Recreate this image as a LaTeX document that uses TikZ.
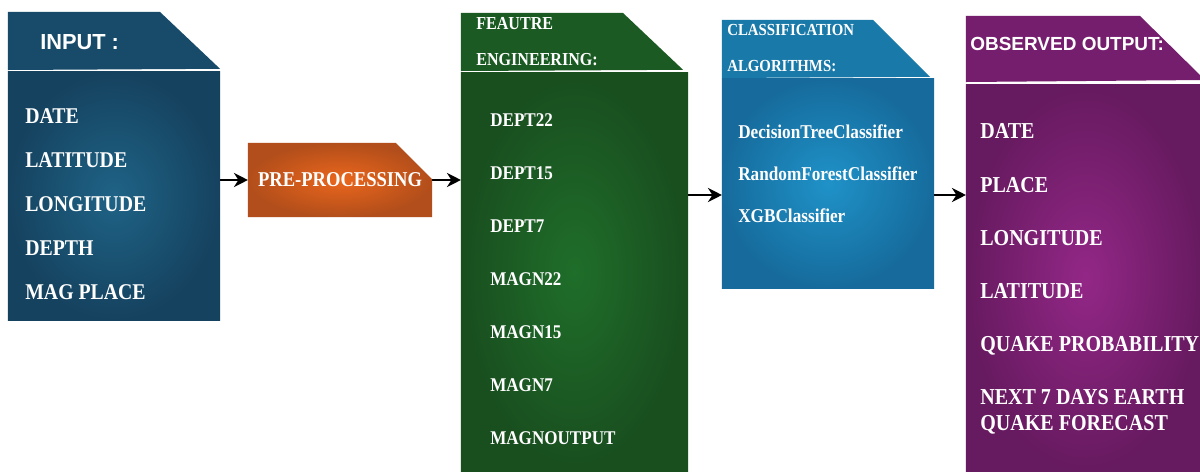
\documentclass[tikz,border=0pt]{standalone}
\usepackage{fontspec}
\usepackage{tikz}
\usetikzlibrary{arrows.meta,shapes.misc}

\newfontfamily\itemfont{Liberation Serif}[FakeStretch=0.88]
\newfontfamily\headfont{Liberation Sans}

\definecolor{inDark}{HTML}{15425F}
\definecolor{inLight}{HTML}{1F6386}
\definecolor{inHead}{HTML}{174B69}
\definecolor{ppDark}{HTML}{B24E1B}
\definecolor{ppLight}{HTML}{EA661C}
\definecolor{feDark}{HTML}{194E1F}
\definecolor{feLight}{HTML}{1F6E2A}
\definecolor{feHead}{HTML}{1B5A22}
\definecolor{clDark}{HTML}{166B9C}
\definecolor{clLight}{HTML}{1F92C8}
\definecolor{clHead}{HTML}{1979A9}
\definecolor{obDark}{HTML}{661A5F}
\definecolor{obLight}{HTML}{932787}
\definecolor{obHead}{HTML}{761E6E}

\begin{document}
\begin{tikzpicture}[x=0.025cm,y=-0.025cm,
    body/.style={rectangle,inner sep=0,outer sep=0},
    tab/.style={rectangle,inner sep=0,outer sep=0},
    items/.style={anchor=base west,align=left,inner sep=0,text=white},
    heading/.style={anchor=west,align=left,inner sep=0,text=white},
    flow/.style={-{Stealth[length=10pt,width=10pt]},line width=2pt}]
    \useasboundingbox[fill=white] (0,0) rectangle (1200,472);

    \node[tab,minimum width=5.3cm,minimum height=1.45cm] (inTab) at (114,41) {};
    \fill[inHead] (inTab.south west) -- (inTab.north west) -- ([xshift=-1.5cm]inTab.north east)
        -- ([yshift=0.03cm]inTab.south east) -- cycle;
    \node[body,inner color=inLight,outer color=inDark,
        minimum width=5.3cm,minimum height=6.2cm] (input) at (114,196) {};
    \node[heading,font={\headfont\bfseries\fontsize{15.5}{18}\selectfont}] (inTitle) at (40,42) {INPUT :};
    \node[items,font={\itemfont\bfseries\fontsize{16}{31.4}\selectfont}] (inList) at (25,299.7)
        {DATE\\LATITUDE\\LONGITUDE\\DEPTH\\MAG PLACE};

    \node[chamfered rectangle,chamfered rectangle corners=north east,inner sep=0,outer sep=0,
        inner color=ppLight,outer color=ppDark,minimum width=4.6cm,minimum height=1.85cm,
        chamfered rectangle xsep=0.8cm,chamfered rectangle ysep=0.725cm,text=white,
        font={\itemfont\bfseries\fontsize{15}{18}\selectfont}] (pre) at (340,180) {PRE-PROCESSING};

    \node[tab,minimum width=5.55cm,minimum height=1.45cm] (feTab) at (572,42) {};
    \fill[feHead] (feTab.south west) -- (feTab.north west) -- ([xshift=-1.5cm]feTab.north east)
        -- ([yshift=0.03cm]feTab.south east) -- cycle;
    \node[body,inner color=feLight,outer color=feDark,
        minimum width=5.675cm,minimum height=9.975cm] (feat) at (574.5,272.5) {};
    \node[heading,font={\itemfont\bfseries\fontsize{13}{26}\selectfont}] (feTitle) at (476,41.5)
        {FEAUTRE\\ENGINEERING:};
    \node[items,font={\itemfont\bfseries\fontsize{13.8}{37.6}\selectfont}] (feList) at (490,444)
        {DEPT22\\DEPT15\\DEPT7\\MAGN22\\MAGN15\\MAGN7\\MAGNOUTPUT};

    \node[tab,minimum width=5.2cm,minimum height=1.45cm] (clTab) at (826,49) {};
    \fill[clHead] (clTab.south west) -- (clTab.north west) -- ([xshift=-1.425cm]clTab.north east)
        -- ([yshift=0.03cm]clTab.south east) -- cycle;
    \node[body,inner color=clLight,outer color=clDark,
        minimum width=5.3cm,minimum height=5.225cm] (class) at (828,183.5) {};
    \node[heading,font={\itemfont\bfseries\fontsize{12}{25.5}\selectfont}] (clTitle) at (727,48)
        {CLASSIFICATION\\ALGORITHMS:};
    \node[items,font={\itemfont\bfseries\fontsize{13.9}{29.8}\selectfont}] (clList) at (738,222.5)
        {DecisionTreeClassifier\\RandomForestClassifier\\XGBClassifier};

    \node[tab,minimum width=5.975cm,minimum height=1.65cm] (obTab) at (1085.5,49) {};
    \fill[obHead] (obTab.south west) -- (obTab.north west) -- ([xshift=-1.625cm]obTab.north east)
        -- ([yshift=0.05cm]obTab.south east) -- cycle;
    \node[body,inner color=obLight,outer color=obDark,
        minimum width=5.975cm,minimum height=9.675cm] (output) at (1085.5,278.5) {};
    \node[heading,font={\headfont\bfseries\fontsize{13.5}{16}\selectfont}] (obTitle) at (970,44)
        {OBSERVED OUTPUT:};
    \node[items,font={\itemfont\bfseries\fontsize{16.2}{37.8}\selectfont}] (obList) at (980,430.5)
        {DATE\\PLACE\\LONGITUDE\\LATITUDE\\QUAKE PROBABILITY\\NEXT 7 DAYS EARTH\\[-19.4pt]QUAKE FORECAST};

    \coordinate (level) at (0,195);
    \draw[flow] (input.east |- pre.west) -- (pre.west);
    \draw[flow] (pre.east) -- (pre.east -| feat.west);
    \draw[flow] (feat.east |- level) -- (class.west |- level);
    \draw[flow] (class.east |- level) -- (output.west |- level);
\end{tikzpicture}
\end{document}
